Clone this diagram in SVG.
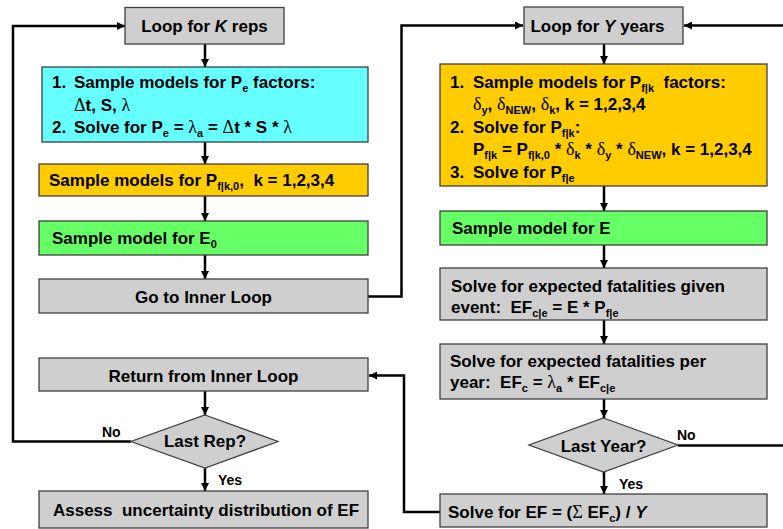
<svg xmlns="http://www.w3.org/2000/svg" width="783" height="529" viewBox="0 0 783 529">
<style>
.box{stroke:#404040;stroke-width:1.3}
.gray{fill:#CFCFCF}
.cyan{fill:#66FFFF}
.orange{fill:#FFCC00}
.green{fill:#66FF66}
.t{font-family:"Liberation Sans",Arial,sans-serif;font-weight:bold;font-size:17px;fill:#000}
.c{text-anchor:middle}
.s{font-size:11px}
.g{font-family:"Liberation Serif","Times New Roman",serif;font-weight:normal;font-size:18px}
.lab{font-family:"Liberation Sans",Arial,sans-serif;font-weight:bold;font-size:14px;fill:#000}
.con{fill:none;stroke:#000;stroke-width:2.5}
</style>
<defs>
<marker id="ah" viewBox="0 0 10 10" refX="10" refY="5" markerWidth="9" markerHeight="8" markerUnits="userSpaceOnUse" orient="auto">
<path d="M0,0 L10,5 L0,10 z" fill="#000"/>
</marker>
</defs>

<g id="connectors">
<line class="con" x1="205" y1="44" x2="205" y2="67" marker-end="url(#ah)"/>
<line class="con" x1="205" y1="142" x2="205" y2="164" marker-end="url(#ah)"/>
<line class="con" x1="205" y1="196" x2="205" y2="221" marker-end="url(#ah)"/>
<line class="con" x1="205" y1="255" x2="205" y2="279" marker-end="url(#ah)"/>
<polyline class="con" points="368,296.5 401.5,296.5 401.5,25.5 523,25.5" marker-end="url(#ah)"/>
<line class="con" x1="205" y1="391" x2="205" y2="415" marker-end="url(#ah)"/>
<line class="con" x1="205" y1="468" x2="205" y2="491" marker-end="url(#ah)"/>
<polyline class="con" points="131,441.5 13,441.5 13,26 125,26" marker-end="url(#ah)"/>
<line class="con" x1="604" y1="44" x2="604" y2="64" marker-end="url(#ah)"/>
<line class="con" x1="604" y1="186" x2="604" y2="211" marker-end="url(#ah)"/>
<line class="con" x1="604" y1="245" x2="604" y2="268" marker-end="url(#ah)"/>
<line class="con" x1="604" y1="320" x2="604" y2="344" marker-end="url(#ah)"/>
<line class="con" x1="604" y1="399" x2="604" y2="418" marker-end="url(#ah)"/>
<line class="con" x1="604" y1="472" x2="604" y2="494" marker-end="url(#ah)"/>
<polyline class="con" points="678,445.5 790,445.5"/>
<line class="con" x1="790" y1="25.5" x2="684" y2="25.5" marker-end="url(#ah)"/>
<polyline class="con" points="440,512 404,512 404,375.5 369,375.5" marker-end="url(#ah)"/>
<text class="lab" x="102" y="437">No</text>
<text class="lab" x="218" y="485">Yes</text>
<text class="lab" x="677" y="440">No</text>
<text class="lab" x="619" y="489">Yes</text>
</g>

<g id="loopK">
<rect class="box gray" x="125" y="7.5" width="159" height="36.5"/>
<text class="t c" x="204.5" y="32">Loop for <tspan font-style="italic">K</tspan> reps</text>
</g>

<g id="samplePe">
<rect class="box cyan" x="42" y="67" width="326" height="75"/>
<text class="t" x="52" y="88">1.</text>
<text class="t" x="74" y="88">Sample models for P<tspan class="s" dy="4">e</tspan><tspan dy="-4"> factors:</tspan></text>
<text class="t" x="74" y="110.5"><tspan class="g">Δ</tspan>t, S, <tspan class="g">λ</tspan></text>
<text class="t" x="52" y="133">2.</text>
<text class="t" x="74" y="133">Solve for P<tspan class="s" dy="4">e</tspan><tspan dy="-4"> = </tspan><tspan class="g">λ</tspan><tspan class="s" dy="4">a</tspan><tspan dy="-4"> = </tspan><tspan class="g">Δ</tspan>t * S * <tspan class="g">λ</tspan></text>
</g>

<g id="samplePfk0">
<rect class="box orange" x="39" y="164" width="329" height="32"/>
<text class="t" x="49" y="186">Sample models for P<tspan class="s" dy="4">f|k,0</tspan><tspan dy="-4">,&#160; k = 1,2,3,4</tspan></text>
</g>

<g id="sampleE0">
<rect class="box green" x="39" y="221" width="329" height="34"/>
<text class="t" x="52" y="244">Sample model for E<tspan class="s" dy="4">0</tspan></text>
</g>

<g id="goInner">
<rect class="box gray" x="39" y="279" width="329" height="34"/>
<text class="t c" x="203.5" y="303">Go to Inner Loop</text>
</g>

<g id="returnInner">
<rect class="box gray" x="39" y="358" width="329" height="33"/>
<text class="t c" x="203.5" y="382">Return from Inner Loop</text>
</g>

<g id="lastRep">
<polygon class="box gray" points="205,415 278,441.5 205,468 131,441.5"/>
<text class="t c" x="205" y="447">Last Rep?</text>
</g>

<g id="assess">
<rect class="box gray" x="39" y="491" width="329" height="37"/>
<text class="t c" x="206" y="516">Assess&#160; uncertainty distribution of EF</text>
</g>

<g id="loopY">
<rect class="box gray" x="524" y="7" width="159" height="37"/>
<text class="t c" x="597.5" y="32">Loop for <tspan font-style="italic">Y</tspan> years</text>
</g>

<g id="samplePfk">
<rect class="box orange" x="440" y="64" width="327" height="122"/>
<text class="t" x="450" y="88">1.</text>
<text class="t" x="473" y="88">Sample models for P<tspan class="s" dy="4">f|k</tspan><tspan dy="-4">&#160; factors:</tspan></text>
<text class="t" x="473" y="110"><tspan class="g">δ</tspan><tspan class="s" dy="4">y</tspan><tspan dy="-4">, </tspan><tspan class="g">δ</tspan><tspan class="s" dy="4">NEW</tspan><tspan dy="-4">, </tspan><tspan class="g">δ</tspan><tspan class="s" dy="4">k</tspan><tspan dy="-4">, k = 1,2,3,4</tspan></text>
<text class="t" x="450" y="132.5">2.</text>
<text class="t" x="473" y="132.5">Solve for P<tspan class="s" dy="4">f|k</tspan><tspan dy="-4">:</tspan></text>
<text class="t" x="473" y="155">P<tspan class="s" dy="4">f|k</tspan><tspan dy="-4"> = P</tspan><tspan class="s" dy="4">f|k,0</tspan><tspan dy="-4"> * </tspan><tspan class="g">δ</tspan><tspan class="s" dy="4">k</tspan><tspan dy="-4"> * </tspan><tspan class="g">δ</tspan><tspan class="s" dy="4">y</tspan><tspan dy="-4"> * </tspan><tspan class="g">δ</tspan><tspan class="s" dy="4">NEW</tspan><tspan dy="-4">, k = 1,2,3,4</tspan></text>
<text class="t" x="450" y="177.5">3.</text>
<text class="t" x="473" y="177.5">Solve for P<tspan class="s" dy="4">f|e</tspan></text>
</g>

<g id="sampleE">
<rect class="box green" x="440" y="211" width="327" height="34"/>
<text class="t" x="452" y="234">Sample model for E</text>
</g>

<g id="solveEFce">
<rect class="box gray" x="440" y="268" width="327" height="52"/>
<text class="t" x="451" y="291.5">Solve for expected fatalities given</text>
<text class="t" x="451" y="313">event:&#160; EF<tspan class="s" dy="4">c|e</tspan><tspan dy="-4"> = E * P</tspan><tspan class="s" dy="4">f|e</tspan></text>
</g>

<g id="solveEFc">
<rect class="box gray" x="440" y="344" width="327" height="55"/>
<text class="t" x="450" y="366.5">Solve for expected fatalities per</text>
<text class="t" x="450" y="388">year:&#160; EF<tspan class="s" dy="4">c</tspan><tspan dy="-4"> = </tspan><tspan class="g">λ</tspan><tspan class="s" dy="4">a</tspan><tspan dy="-4"> * EF</tspan><tspan class="s" dy="4">c|e</tspan></text>
</g>

<g id="lastYear">
<polygon class="box gray" points="603.5,418 678,445 603.5,472 529,445"/>
<text class="t c" x="603.5" y="452">Last Year?</text>
</g>

<g id="solveEF">
<rect class="box gray" x="440" y="494" width="327" height="33"/>
<text class="t" x="448" y="518">Solve for EF = (<tspan class="g">Σ</tspan> EF<tspan class="s" dy="4">c</tspan><tspan dy="-4">) / </tspan><tspan font-style="italic">Y</tspan></text>
</g>
</svg>
